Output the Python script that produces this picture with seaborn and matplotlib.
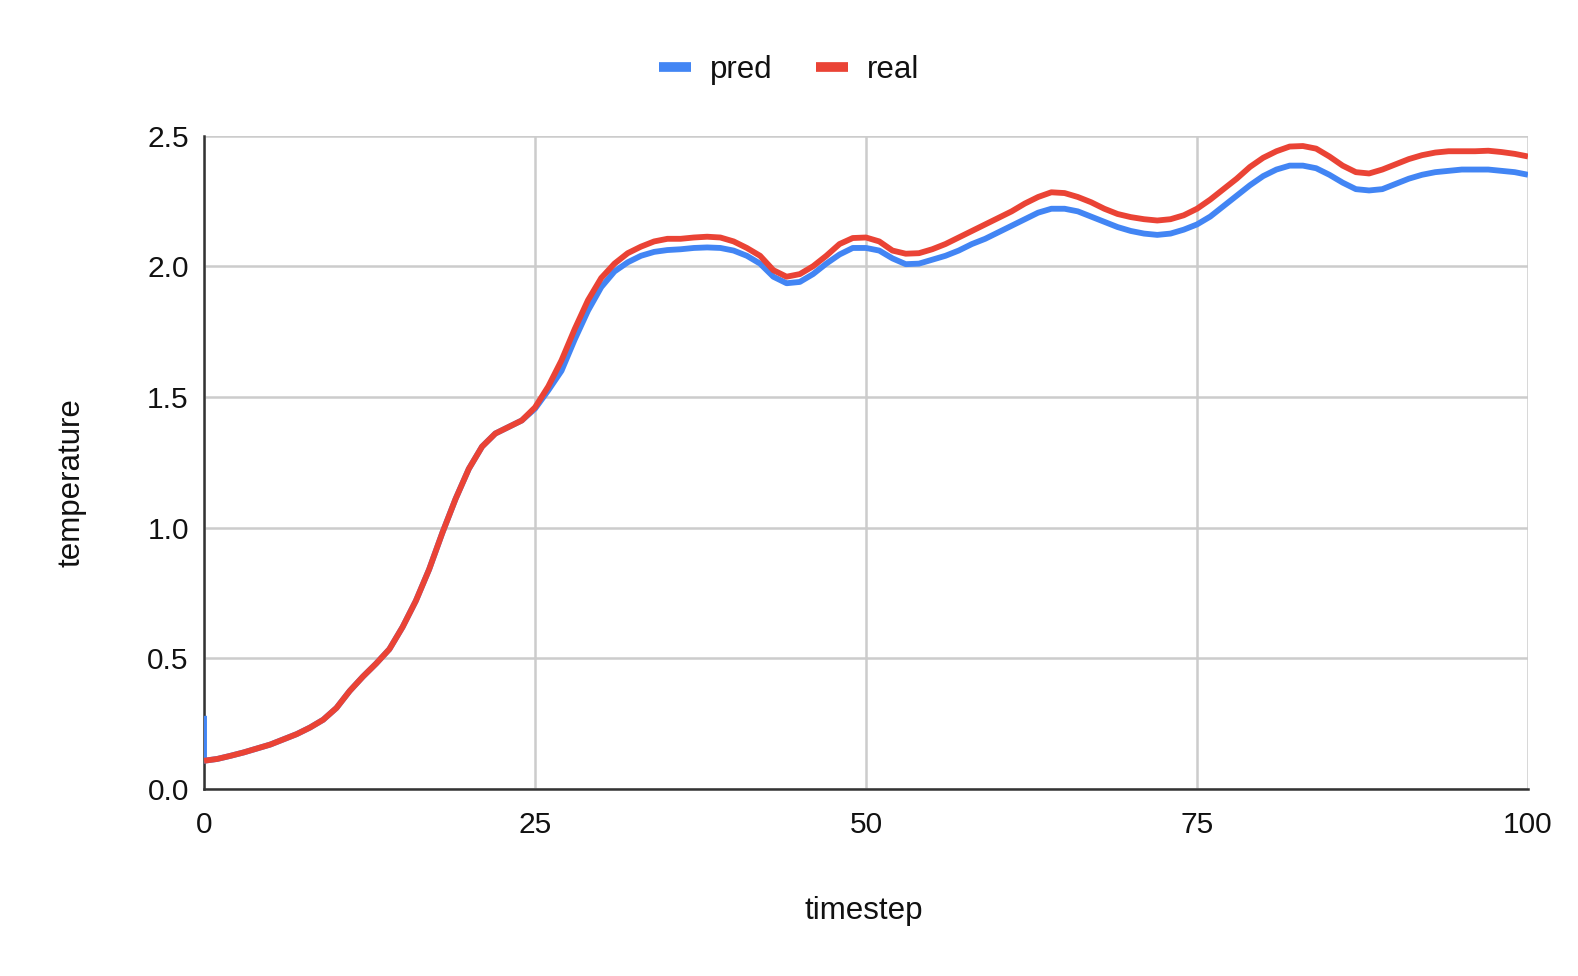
import pandas as pd
import seaborn as sns
from matplotlib import pyplot as plt
from matplotlib.lines import Line2D

# values
timestep = list(range(101))

real = [0.108, 0.115, 0.127, 0.14, 0.155, 0.17, 0.19, 0.21, 0.235, 0.265,
        0.31, 0.375, 0.43, 0.48, 0.535, 0.62, 0.72, 0.84, 0.98, 1.11,
        1.225, 1.31, 1.36, 1.385, 1.41, 1.46, 1.54, 1.64, 1.76, 1.87,
        1.955, 2.01, 2.05, 2.075, 2.095, 2.105, 2.105, 2.11, 2.113, 2.11,
        2.095, 2.07, 2.04, 1.985, 1.96, 1.97, 2.0, 2.04, 2.085, 2.108,
        2.11, 2.095, 2.06, 2.048, 2.05, 2.065, 2.085, 2.11, 2.135, 2.16,
        2.185, 2.21, 2.24, 2.265, 2.283, 2.28, 2.265, 2.245, 2.22, 2.2,
        2.188, 2.18, 2.175, 2.18, 2.195, 2.22, 2.255, 2.295, 2.335, 2.38,
        2.415, 2.44, 2.458, 2.46, 2.45, 2.42, 2.385, 2.36, 2.355, 2.37,
        2.39, 2.41, 2.425, 2.435, 2.44, 2.44, 2.44, 2.442, 2.437, 2.43,
        2.42]

pred = [0.108, 0.115, 0.127, 0.14, 0.155, 0.17, 0.19, 0.21, 0.235, 0.265,
        0.31, 0.375, 0.43, 0.48, 0.535, 0.62, 0.72, 0.84, 0.98, 1.11,
        1.225, 1.31, 1.36, 1.385, 1.41, 1.455, 1.525, 1.6, 1.72, 1.83,
        1.92, 1.98, 2.015, 2.04, 2.055, 2.062, 2.065, 2.07, 2.072, 2.07,
        2.06, 2.04, 2.01, 1.96, 1.935, 1.94, 1.97, 2.01, 2.045, 2.07,
        2.07, 2.06, 2.03, 2.008, 2.01, 2.025, 2.04, 2.06, 2.085, 2.105,
        2.13, 2.155, 2.18, 2.205, 2.22, 2.22, 2.21, 2.19, 2.17, 2.15,
        2.135, 2.125, 2.12, 2.125, 2.14, 2.16, 2.19, 2.23, 2.27, 2.31,
        2.345, 2.37, 2.385, 2.385, 2.375, 2.35, 2.32, 2.295, 2.29, 2.295,
        2.315, 2.335, 2.35, 2.36, 2.365, 2.37, 2.37, 2.37, 2.365, 2.36,
        2.35]

# pred has an extra first sample at timestep 0
pred_start = 0.28

series = ["pred", "real"]
colors = ["#4285F4", "#EA4335"]

df = pd.concat([
    pd.DataFrame({"timestep": [0] + timestep, "temperature": [pred_start] + pred, "series": "pred"}),
    pd.DataFrame({"timestep": timestep, "temperature": real, "series": "real"}),
])

sns.set_style("white")
plt.rcParams['font.family'] = ['Liberation Sans', 'DejaVu Sans']

fig = plt.figure(figsize=(15.78, 9.76), dpi=100)
ax = fig.add_axes([0.1293, 0.1916, 0.8390, 0.6695])

sns.lineplot(data=df, x="timestep", y="temperature", hue="series",
             palette=dict(zip(series, colors)), estimator=None, sort=False,
             linewidth=4.2, ax=ax, legend=False)
for ln in ax.lines:
    ln.set_solid_joinstyle("round")
    ln.set_solid_capstyle("butt")
    ln.set_zorder(3)

ax.set_xlim(0, 100)
ax.set_ylim(0, 2.5)
ax.set_xticks([0, 25, 50, 75, 100])
ax.set_yticks([0, 0.5, 1.0, 1.5, 2.0, 2.5])
ax.set_yticklabels(["0.0", "0.5", "1.0", "1.5", "2.0", "2.5"])
ax.grid(True, color="#cccccc", linewidth=1.8)
ax.set_axisbelow(True)
for s in ["top", "right"]:
    ax.spines[s].set_visible(False)
for s in ["left", "bottom"]:
    ax.spines[s].set_color("#333333")
    ax.spines[s].set_linewidth(1.8)
ax.tick_params(axis="both", length=0, labelsize=21.5, colors="#111111", pad=11)
ax.tick_params(axis="x", pad=16)

ax.set_xlabel("timestep", fontsize=22.5, color="#111111")
ax.set_ylabel("temperature", fontsize=22.5, color="#111111")
ax.xaxis.set_label_coords(0.498, -0.164)
ax.yaxis.set_label_coords(-0.0885, 0.469)

handles = [Line2D([], [], color=c, linewidth=7, solid_capstyle="butt") for c in colors]
fig.legend(handles, series, loc="center", bbox_to_anchor=(0.5, 0.928), ncol=2,
           frameon=False, fontsize=22.5, handlelength=1.02, columnspacing=1.4,
           handletextpad=0.6, labelcolor="#111111")

fig.savefig("out.png", dpi=100)
